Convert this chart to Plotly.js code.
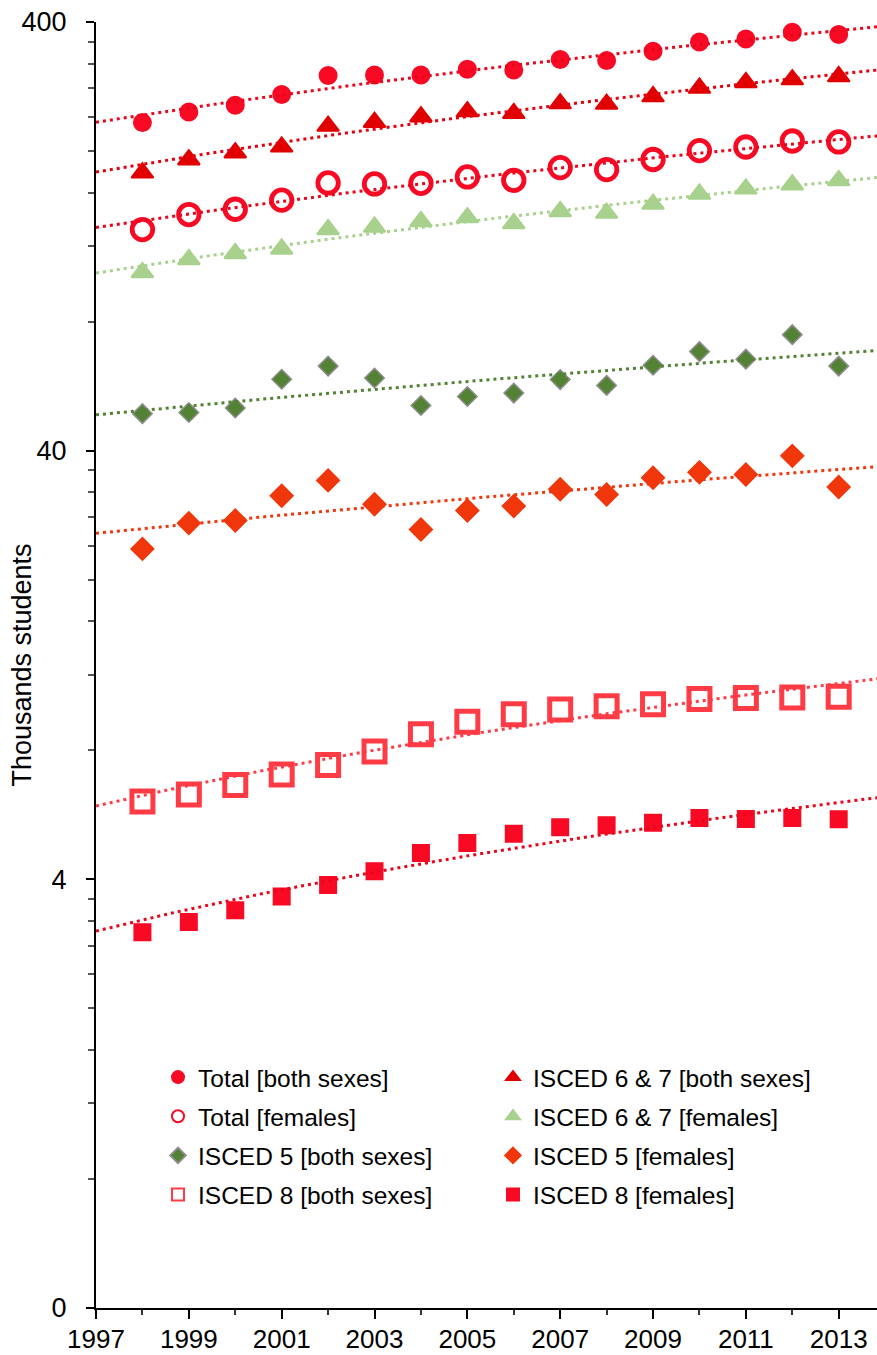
<!DOCTYPE html>
<html>
<head>
<meta charset="utf-8">
<script src="https://cdn.plot.ly/plotly-3.0.1.min.js"></script>
<style>
html,body{margin:0;padding:0;background:#fff;}
#chart{width:877px;height:1355px;}
</style>
</head>
<body>
<div id="chart"></div>
<script>
// ---- data (thousands of students) ----
const years = [1998, 1999, 2000, 2001, 2002, 2003, 2004, 2005, 2006, 2007, 2008, 2009, 2010, 2011, 2012, 2013];
const totalBoth   = [233.0, 246.7, 255.7, 270.9, 300.0, 301.0, 301.0, 310.3, 309.1, 326.9, 325.1, 341.8, 359.3, 365.0, 378.5, 374.0];
const isced67Both = [178.0, 190.9, 198.2, 204.6, 228.7, 233.6, 240.6, 247.3, 244.9, 258.1, 257.4, 268.1, 280.6, 289.1, 293.6, 298.5];
const totalFem    = [131.2, 142.2, 146.3, 153.6, 168.5, 167.6, 168.2, 174.0, 170.9, 183.0, 181.0, 191.1, 200.5, 204.4, 211.1, 210.0];
const isced67Fem  = [104.2, 111.7, 115.4, 118.2, 131.3, 133.0, 137.0, 139.9, 135.6, 144.6, 143.3, 150.4, 158.8, 163.3, 166.9, 170.8];
const isced5Both  = [48.8, 49.1, 50.3, 58.7, 63.0, 59.1, 51.0, 53.5, 54.5, 58.6, 56.8, 63.3, 68.1, 65.4, 74.6, 63.0];
const isced5Fem   = [23.6, 27.1, 27.5, 31.4, 34.1, 30.0, 26.2, 29.0, 29.7, 32.5, 31.6, 34.6, 35.6, 35.2, 38.9, 32.9];
const isced8Both  = [6.08, 6.31, 6.64, 7.02, 7.39, 7.95, 8.72, 9.32, 9.71, 9.96, 10.14, 10.24, 10.54, 10.60, 10.62, 10.66];
const isced8Fem   = [3.01, 3.18, 3.39, 3.65, 3.88, 4.18, 4.61, 4.86, 5.11, 5.29, 5.35, 5.42, 5.56, 5.53, 5.56, 5.52];

const seriesNames = [
  'Total [both sexes]', 'ISCED 6 & 7 [both sexes]',
  'Total [females]', 'ISCED 6 & 7 [females]',
  'ISCED 5 [both sexes]', 'ISCED 5 [females]',
  'ISCED 8 [both sexes]', 'ISCED 8 [females]'
];
const yTickVals = [0.4, 4, 40, 400];
const yTickText = ['0', '4', '40', '400'];

// ---- styles ----
const FONT = 'Liberation Sans, Arial, Helvetica, sans-serif';
const styles = [
  {y: totalBoth,   sym: 'circle',      size: 17,   fill: '#F80A24', line: '#F80A24', lw: 2,   trend: '#E8061C', legend: 'legend'},
  {y: isced67Both, sym: 'triangle-up', size: 19,   fill: '#E00000', line: '#E00000', lw: 2,   trend: '#E4000E', legend: 'legend2'},
  {y: totalFem,    sym: 'circle',      size: 20.5, fill: '#FFFFFF', line: '#F80A24', lw: 4.8, trend: '#E8061C', legend: 'legend'},
  {y: isced67Fem,  sym: 'triangle-up', size: 19,   fill: '#A9D18E', line: '#A9D18E', lw: 2,   trend: '#A9D18E', legend: 'legend2'},
  {y: isced5Both,  sym: 'diamond',     size: 15,   fill: '#548235', line: '#8C8C8C', lw: 1.5, trend: '#548235', legend: 'legend'},
  {y: isced5Fem,   sym: 'diamond',     size: 17,   fill: '#F0370C', line: '#F0370C', lw: 2,   trend: '#F0370C', legend: 'legend2'},
  {y: isced8Both,  sym: 'square',      size: 21,   fill: '#FFFFFF', line: '#FF3C46', lw: 5,   trend: '#FF3C46', legend: 'legend'},
  {y: isced8Fem,   sym: 'square',      size: 16,   fill: '#F80A24', line: '#F80A24', lw: 2,   trend: '#E8061C', legend: 'legend2'}
];

// linear least-squares trendline (as in the original spreadsheet chart)
function linFit(xs, ys) {
  const n = xs.length;
  let sx = 0, sy = 0, sxx = 0, sxy = 0;
  for (let i = 0; i < n; i++) { sx += xs[i]; sy += ys[i]; sxx += xs[i] * xs[i]; sxy += xs[i] * ys[i]; }
  const b = (n * sxy - sx * sy) / (n * sxx - sx * sx);
  const a = (sy - b * sx) / n;
  return x => a + b * x;
}
const trendX = [];
for (let x = 1997; x <= 2014.0001; x += 0.25) trendX.push(x);

const markerTraces = [];
const trendTraces = [];
styles.forEach((s, i) => {
  const grp = 'g' + i;
  markerTraces.push({
    type: 'scatter', mode: 'markers', name: seriesNames[i],
    x: years, y: s.y,
    legend: s.legend, legendgroup: grp,
    cliponaxis: false,
    marker: {symbol: s.sym, size: s.size, color: s.fill, line: {color: s.line, width: s.lw}},
    hoverinfo: 'x+y+name'
  });
  const f = linFit(years, s.y);
  trendTraces.push({
    type: 'scatter', mode: 'lines', name: seriesNames[i] + ' trend',
    x: trendX, y: trendX.map(f),
    legend: s.legend, legendgroup: grp, showlegend: false,
    line: {color: s.trend, width: 3, dash: '3px,4px'},
    hoverinfo: 'skip'
  });
});

const minorY = [];
[0.4, 4, 40].forEach(base => { for (let k = 2; k <= 9; k++) minorY.push(+(base * k).toFixed(4)); });

const legendCommon = {
  xanchor: 'left', yanchor: 'top', orientation: 'v',
  font: {family: FONT, size: 24.5, color: '#000'},
  itemsizing: 'constant', traceorder: 'grouped', tracegroupgap: 4.3,
  bgcolor: 'rgba(0,0,0,0)', borderwidth: 0
};

const layout = {
  width: 877, height: 1355,
  margin: {l: 96, r: 0, t: 22, b: 47, pad: 0},
  paper_bgcolor: '#fff', plot_bgcolor: '#fff',
  font: {family: FONT, color: '#000'},
  showlegend: true,
  legend: Object.assign({}, legendCommon, {x: 0.0794, y: 0.197}),
  legend2: Object.assign({}, legendCommon, {x: 0.5083, y: 0.197}),
  xaxis: {
    range: [1997, 2013.825], tickmode: 'linear', tick0: 1997, dtick: 2,
    ticks: 'outside', ticklen: 9, tickwidth: 2, tickcolor: '#000',
    ticklabelstandoff: -2,
    showline: true, linecolor: '#000', linewidth: 2,
    showgrid: false, zeroline: false, automargin: false,
    tickfont: {family: FONT, size: 26, color: '#000'},
    minor: {tickmode: 'linear', tick0: 1997, dtick: 1, ticks: 'outside', ticklen: 5, tickwidth: 2, tickcolor: '#333', showgrid: false}
  },
  yaxis: {
    type: 'log', range: [Math.log10(0.4), Math.log10(400)],
    tickmode: 'array', tickvals: yTickVals, ticktext: yTickText,
    ticks: 'outside', ticklen: 8, tickwidth: 2, tickcolor: '#000',
    ticklabelstandoff: 14,
    showline: true, linecolor: '#000', linewidth: 2,
    showgrid: false, zeroline: false, automargin: false,
    tickfont: {family: FONT, size: 27, color: '#000'},
    minor: {tickmode: 'array', tickvals: minorY, ticks: 'outside', ticklen: 6, tickwidth: 1.5, tickcolor: '#555', showgrid: false},
    title: {text: 'Thousands students', font: {family: FONT, size: 27, color: '#000'}}
  }
};

Plotly.newPlot('chart', markerTraces.concat(trendTraces), layout, {displayModeBar: false});
</script>
</body>
</html>
